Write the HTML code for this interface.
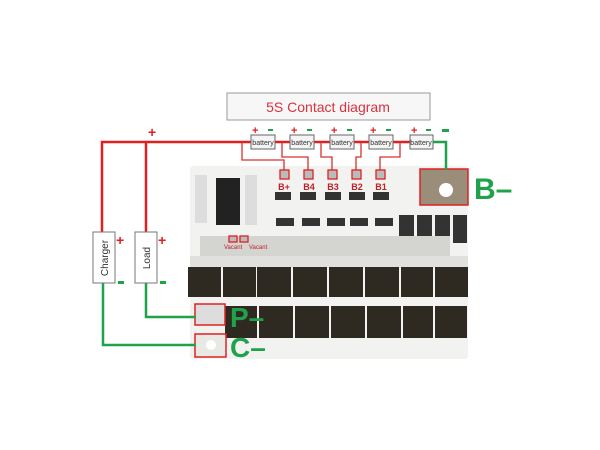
<!DOCTYPE html>
<html><head><meta charset="utf-8"><style>
html,body{margin:0;padding:0;background:#fff;}
svg{display:block;}
text{font-family:"Liberation Sans",sans-serif;}
</style></head><body>
<svg width="600" height="450" viewBox="0 0 600 450" xmlns="http://www.w3.org/2000/svg">
<rect width="600" height="450" fill="#fff"/>
<!-- title -->
<rect x="227" y="93" width="203" height="27" fill="#f7f7f7" stroke="#999" stroke-width="1"/>
<text x="328" y="112" font-size="14" fill="#d8323c" text-anchor="middle">5S Contact diagram</text>
<!-- board -->
<rect x="190" y="166" width="278" height="193" rx="3" fill="#f2f2f0"/>
<rect x="195" y="175" width="12" height="48" fill="#ddd"/>
<rect x="245" y="175" width="12" height="50" fill="#ddd"/>
<rect x="216" y="178" width="24" height="47" fill="#222"/>
<g fill="#333">
<rect x="275" y="192" width="16" height="8"/><rect x="300" y="192" width="16" height="8"/><rect x="325" y="192" width="16" height="8"/><rect x="349" y="192" width="16" height="8"/><rect x="373" y="192" width="16" height="8"/>
<rect x="276" y="218" width="18" height="8"/><rect x="302" y="218" width="18" height="8"/><rect x="327" y="218" width="18" height="8"/><rect x="350" y="218" width="18" height="8"/><rect x="375" y="218" width="18" height="8"/>
<rect x="399" y="215" width="15" height="28"/><rect x="417" y="215" width="15" height="28"/><rect x="435" y="215" width="15" height="28"/><rect x="453" y="215" width="14" height="28"/>
</g>
<rect x="200" y="236" width="250" height="20" fill="#d4d4d0"/>
<rect x="190" y="256" width="278" height="12" fill="#e0e0dc"/>
<!-- mosfets -->
<g fill="#2e2a22">
<rect x="188" y="267" width="33" height="30"/><rect x="223" y="267" width="33" height="30"/><rect x="257" y="267" width="34" height="30"/><rect x="293" y="267" width="34" height="30"/><rect x="329" y="267" width="34" height="30"/><rect x="365" y="267" width="34" height="30"/><rect x="401" y="267" width="32" height="30"/><rect x="435" y="267" width="33" height="30"/>
<rect x="225" y="306" width="32" height="32"/><rect x="259" y="306" width="34" height="32"/><rect x="295" y="306" width="34" height="32"/><rect x="331" y="306" width="34" height="32"/><rect x="367" y="306" width="34" height="32"/><rect x="403" y="306" width="30" height="32"/><rect x="435" y="306" width="32" height="32"/>
</g>
<!-- B- pad -->
<rect x="420" y="169" width="48" height="36" fill="#9a8e7a" stroke="#d22" stroke-width="1.5"/>
<circle cx="446" cy="190" r="7" fill="#fff"/>
<text x="474" y="199" font-size="30" font-weight="bold" fill="#1fa24a">B–</text>
<!-- P and C pads -->
<rect x="195" y="304" width="30" height="21" fill="#ddd" stroke="#d22" stroke-width="1.5"/>
<rect x="195" y="334" width="31" height="23" fill="#e8e8e4" stroke="#d22" stroke-width="1.5"/>
<circle cx="211" cy="345" r="5" fill="#fff"/>
<text x="230" y="327" font-size="28" font-weight="bold" fill="#1fa24a">P–</text>
<text x="230" y="357" font-size="28" font-weight="bold" fill="#1fa24a">C–</text>
<!-- red wires -->
<g stroke="#e02020" stroke-width="2.5" fill="none">
<polyline points="102,232 102,142 251,142"/>
<line x1="146" y1="142" x2="146" y2="232"/>
<line x1="275" y1="142" x2="290" y2="142"/><line x1="314" y1="142" x2="330" y2="142"/><line x1="354" y1="142" x2="369" y2="142"/><line x1="393" y1="142" x2="410" y2="142"/>
</g>
<g stroke="#d83030" stroke-width="1.3" fill="none">
<polyline points="242,142 242,160 284,160 284,170"/>
<polyline points="282,142 282,157 308,157 308,170"/>
<polyline points="321,142 321,157 332,157 332,170"/>
<polyline points="361,142 361,157 356,157 356,170"/>
<polyline points="400,142 400,157 380,157 380,170"/>
</g>
<g fill="#bbb" stroke="#d22" stroke-width="1.3">
<rect x="280" y="170" width="9" height="9"/><rect x="304" y="170" width="9" height="9"/><rect x="328" y="170" width="9" height="9"/><rect x="352" y="170" width="9" height="9"/><rect x="376" y="170" width="9" height="9"/>
<rect x="229" y="236" width="8" height="6"/><rect x="240" y="236" width="8" height="6"/>
</g>
<g font-size="9" fill="#c0202a" font-family="Liberation Serif,serif" text-anchor="middle" font-weight="bold">
<text x="284" y="190">B+</text><text x="309" y="190">B4</text><text x="333" y="190">B3</text><text x="357" y="190">B2</text><text x="381" y="190">B1</text>
</g>
<text x="224" y="249" font-size="6" fill="#c0202a">Vacant</text>
<text x="249" y="249" font-size="6" fill="#c0202a">Vacant</text>
<!-- batteries -->
<g fill="#f4f4f4" stroke="#666" stroke-width="1">
<rect x="251" y="135" width="24" height="14"/><rect x="290" y="135" width="24" height="14"/><rect x="330" y="135" width="24" height="14"/><rect x="369" y="135" width="24" height="14"/><rect x="410" y="135" width="23" height="14"/>
</g>
<g font-size="7" fill="#333" text-anchor="middle">
<text x="263" y="145">battery</text><text x="302" y="145">battery</text><text x="342" y="145">battery</text><text x="381" y="145">battery</text><text x="421" y="145">battery</text>
</g>
<g font-size="11" font-weight="bold" fill="#e02020">
<text x="252" y="134">+</text><text x="291" y="134">+</text><text x="331" y="134">+</text><text x="370" y="134">+</text><text x="411" y="134">+</text>
<text x="148" y="137" font-size="14">+</text>
<text x="116" y="245" font-size="14">+</text><text x="158" y="245" font-size="14">+</text>
</g>
<g fill="#1fa24a">
<rect x="268" y="129" width="5" height="2"/><rect x="307" y="129" width="5" height="2"/><rect x="347" y="129" width="5" height="2"/><rect x="386" y="129" width="5" height="2"/><rect x="426" y="129" width="5" height="2"/>
<rect x="442" y="129" width="7" height="3"/>
<rect x="118" y="281" width="6" height="3"/><rect x="160" y="281" width="6" height="3"/>
</g>
<!-- green wires -->
<g stroke="#1fa24a" stroke-width="2.5" fill="none">
<polyline points="433,142 446,142 446,170"/>
<polyline points="103,283 103,345 196,345"/>
<polyline points="146,283 146,317 196,317"/>
</g>
<!-- charger/load -->
<rect x="93" y="232" width="22" height="51" fill="#fff" stroke="#777" stroke-width="1"/>
<rect x="135" y="232" width="22" height="51" fill="#fff" stroke="#777" stroke-width="1"/>
<text transform="translate(108,258) rotate(-90)" font-size="10" fill="#333" text-anchor="middle">Charger</text>
<text transform="translate(150,258) rotate(-90)" font-size="10" fill="#333" text-anchor="middle">Load</text>
</svg>
</body></html>
